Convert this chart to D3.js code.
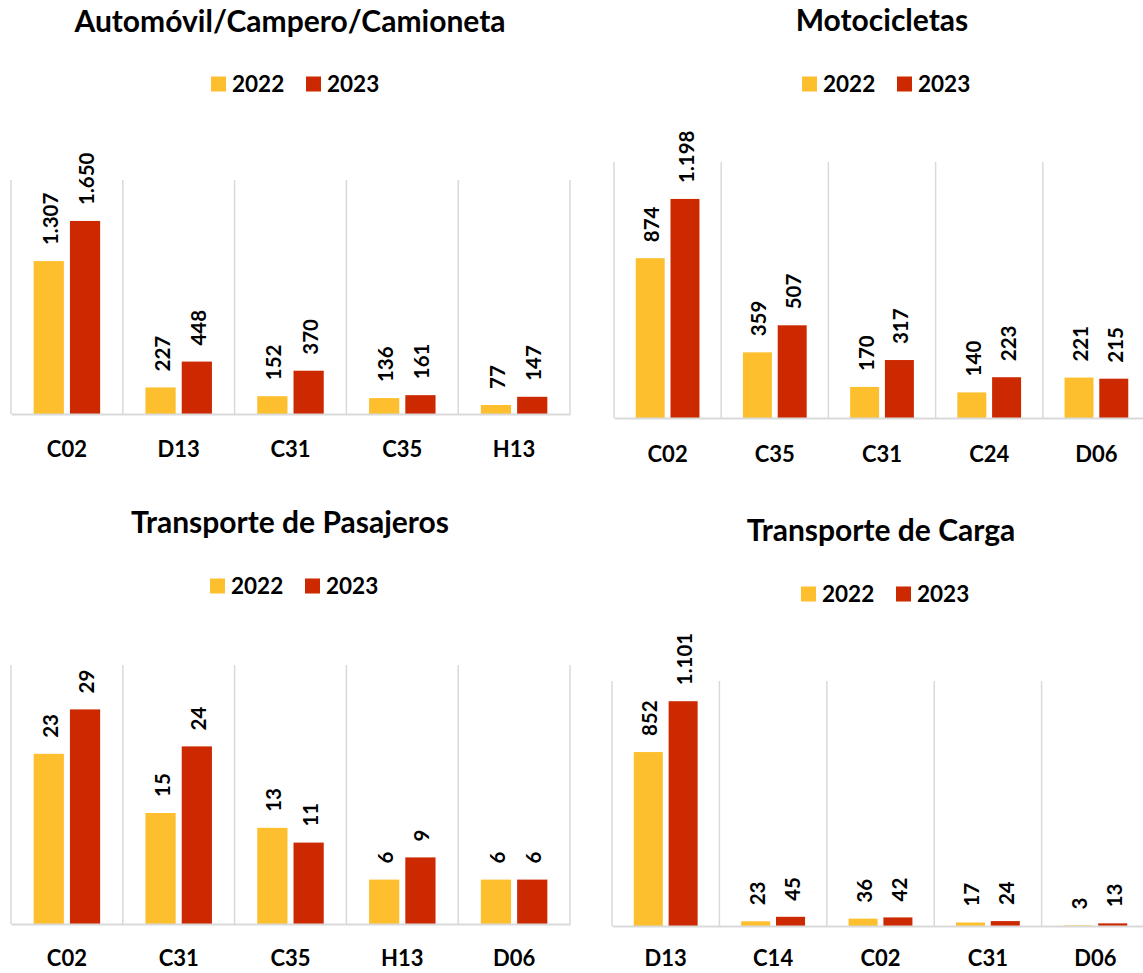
<!DOCTYPE html>
<html>
<head>
<meta charset="utf-8">
<script src="https://cdn.jsdelivr.net/npm/d3@7"></script>
<style>
  html, body { margin: 0; padding: 0; background: #ffffff; }
  svg { display: block; font-family: Lato, "Open Sans", sans-serif; font-weight: 700; }
</style>
</head>
<body>
<svg id="chart" width="1143" height="973"></svg>
<script>
// ---- Data ----
const seriesNames = ["2022", "2023"];
const seriesColors = ["#FDBF2D", "#CC2900"];

const autoTitle = "Automóvil/Campero/Camioneta";
const autoCategories = ["C02", "D13", "C31", "C35", "H13"];
const auto2022 = [1307, 227, 152, 136, 77];
const auto2023 = [1650, 448, 370, 161, 147];
const autoMax = 2000;

const motoTitle = "Motocicletas";
const motoCategories = ["C02", "C35", "C31", "C24", "D06"];
const moto2022 = [874, 359, 170, 140, 221];
const moto2023 = [1198, 507, 317, 223, 215];
const motoMax = 1400;

const pasTitle = "Transporte de Pasajeros";
const pasCategories = ["C02", "C31", "C35", "H13", "D06"];
const pas2022 = [23, 15, 13, 6, 6];
const pas2023 = [29, 24, 11, 9, 6];
const pasMax = 35;

const cargaTitle = "Transporte de Carga";
const cargaCategories = ["D13", "C14", "C02", "C31", "D06"];
const carga2022 = [852, 23, 36, 17, 3];
const carga2023 = [1101, 45, 42, 24, 13];
const cargaMax = 1200;

// ---- Layout ----
const panels = [
  { title: autoTitle, cats: autoCategories, s: [auto2022, auto2023], max: autoMax,
    x0: 11, x1: 570, yTop: 180, yBase: 414, catY: 457, titleX: 290, titleY: 32, legX: 211, legY: 84 },
  { title: motoTitle, cats: motoCategories, s: [moto2022, moto2023], max: motoMax,
    x0: 614, x1: 1150, yTop: 162, yBase: 418, catY: 462, titleX: 882, titleY: 31, legX: 802, legY: 84 },
  { title: pasTitle, cats: pasCategories, s: [pas2022, pas2023], max: pasMax,
    x0: 11, x1: 570, yTop: 665, yBase: 924, catY: 966, titleX: 290, titleY: 533, legX: 210, legY: 586 },
  { title: cargaTitle, cats: cargaCategories, s: [carga2022, carga2023], max: cargaMax,
    x0: 612, x1: 1149, yTop: 681, yBase: 926, catY: 966, titleX: 881, titleY: 541, legX: 801, legY: 594 }
];

const fmt = d3.formatLocale({ decimal: ",", thousands: ".", grouping: [3], currency: ["$", ""] }).format(",d");
const svg = d3.select("#chart");

panels.forEach(p => {
  const g = svg.append("g");
  const x = d3.scaleBand().domain(p.cats).range([p.x0, p.x1]).paddingInner(0).paddingOuter(0);
  const bw = x.bandwidth();
  const barW = bw / 3.7;
  const gap = barW * 0.2;
  const xs = d3.scaleBand().domain(seriesNames)
    .range([(bw - 2 * barW - gap) / 2, (bw + 2 * barW + gap) / 2]).paddingInner(gap / (barW + gap)).paddingOuter(0);
  const y = d3.scaleLinear().domain([0, p.max]).range([p.yBase, p.yTop]);

  // vertical gridlines (category separators)
  const edges = p.cats.map(c => x(c)).concat([x(p.cats[p.cats.length - 1]) + bw]);
  g.selectAll("line.grid").data(edges).join("line")
    .attr("x1", d => d).attr("x2", d => d)
    .attr("y1", p.yTop).attr("y2", p.yBase)
    .attr("stroke", "#d9d9d9").attr("stroke-width", 1.5);

  // bars
  seriesNames.forEach((sn, si) => {
    const vals = p.s[si];
    g.selectAll("rect.s" + si).data(p.cats).join("rect")
      .attr("x", (c) => x(c) + xs(sn))
      .attr("y", (c, i) => y(vals[i]))
      .attr("width", xs.bandwidth())
      .attr("height", (c, i) => p.yBase - y(vals[i]))
      .attr("fill", seriesColors[si]);
    g.selectAll("text.l" + si).data(p.cats).join("text")
      .attr("transform", (c, i) => `translate(${x(c) + xs(sn) + xs.bandwidth() / 2 + 1},${y(vals[i]) - 16}) rotate(-90)`)
      .attr("text-anchor", "start")
      .attr("dominant-baseline", "central")
      .attr("font-size", 20.5)
      .attr("fill", "#000")
      .text((c, i) => fmt(vals[i]));
  });

  // baseline axis
  const xAxis = d3.axisBottom(x).tickSize(0).tickPadding(0);
  const ax = g.append("g").attr("transform", `translate(0,${p.yBase})`).call(xAxis);
  ax.select(".domain").attr("stroke", "#d9d9d9").attr("stroke-width", 2);
  ax.selectAll(".tick text")
    .attr("y", p.catY - p.yBase).attr("dy", 0)
    .attr("font-size", 22).attr("font-family", "Lato, sans-serif").attr("font-weight", 700).attr("fill", "#000");

  // title
  g.append("text").attr("x", p.titleX).attr("y", p.titleY)
    .attr("text-anchor", "middle").attr("font-size", 30).attr("fill", "#000").text(p.title);

  // legend
  const lg = g.append("g").attr("transform", `translate(${p.legX},${p.legY})`);
  seriesNames.forEach((sn, si) => {
    const ox = si * 95;
    lg.append("rect").attr("x", ox).attr("y", -7.5).attr("width", 15).attr("height", 15).attr("fill", seriesColors[si]);
    lg.append("text").attr("x", ox + 21).attr("y", 8).attr("font-size", 22.5).attr("fill", "#000").text(sn);
  });
});
</script>
</body>
</html>
